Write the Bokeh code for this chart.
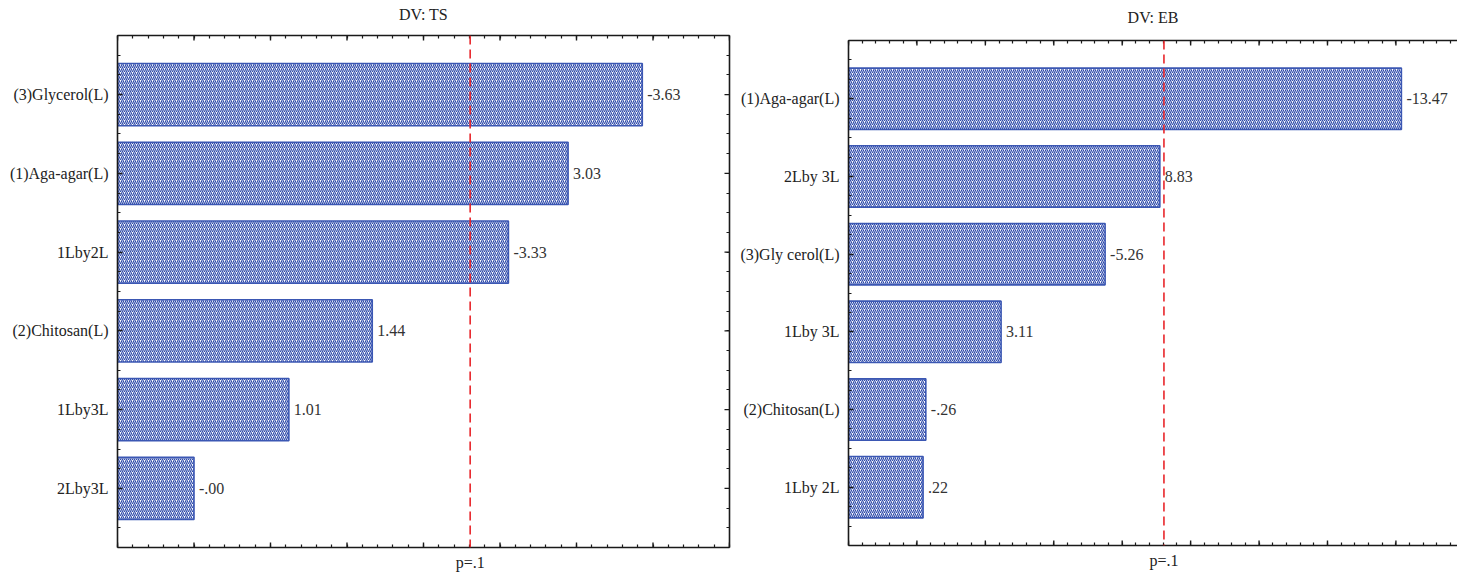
import math
from bokeh.plotting import figure
from bokeh.layouts import row, column
from bokeh.models import Range1d, FixedTicker, LinearAxis, Span, Spacer
from bokeh.core.properties import value
from bokeh.embed import file_html
from bokeh.resources import INLINE

# ---- data ----
ts_categories = ["(3)Glycerol(L)", "(1)Aga-agar(L)", "1Lby2L", "(2)Chitosan(L)", "1Lby3L", "2Lby3L"]
ts_effects = [6.86, 5.89, 5.11, 3.33, 2.24, 1.00]
ts_labels = ["-3.63", "3.03", "-3.33", "1.44", "1.01", "-.00"]

eb_categories = ["(1)Aga-agar(L)", "2Lby 3L", "(3)Gly cerol(L)", "1Lby 3L", "(2)Chitosan(L)", "1Lby 2L"]
eb_effects = [8.08, 4.55, 3.75, 2.23, 1.13, 1.09]
eb_labels = ["-13.47", "8.83", "-5.26", "3.11", "-.26", ".22"]

p_crit = 4.61
p_label = "p=.1"

FONT = "Liberation Serif"
FS = "16px"
AXIS_COLOR = "#1a1a1a"
BAR_LINE = "#3b57b3"
HATCH = "#2f4bab"


def make_panel(title, cats, effects, labels, width, height, xmax,
               b_left, b_right, b_top, b_bottom, title_standoff, right_axis=True):
    n = len(cats)
    ys = list(range(n))
    y_bottom, y_top = n - 0.25, -0.75
    p = figure(width=width, height=height, output_backend="svg", toolbar_location=None,
               x_range=Range1d(0, xmax), y_range=Range1d(y_bottom, y_top),
               x_axis_location=None, y_axis_location=None,
               min_border_left=b_left, min_border_right=b_right,
               min_border_top=b_top, min_border_bottom=b_bottom)
    p.grid.visible = False
    p.outline_line_color = None
    p.background_fill_color = "white"
    p.border_fill_color = "white"

    xmaj = list(range(0, int(math.floor(xmax)) + 1))
    xmin = [round(i * 0.2, 2) for i in range(0, int(xmax * 5) + 1)]
    ymin = [(-0.75 + 0.25 * k) for k in range(0, 4 * n + 2)]

    def style(ax):
        ax.axis_line_color = AXIS_COLOR
        ax.axis_line_width = 1.6
        ax.major_tick_line_color = AXIS_COLOR
        ax.minor_tick_line_color = AXIS_COLOR
        ax.major_tick_line_width = 1.4
        ax.minor_tick_line_width = 1.2
        ax.major_tick_in = 5
        ax.major_tick_out = 0
        ax.minor_tick_in = 3
        ax.minor_tick_out = 0
        ax.major_label_text_font = FONT
        ax.major_label_text_color = "#222222"
        ax.major_label_text_font_size = FS

    # bottom axis: minor ticks + "p=.1" label
    bottom = LinearAxis(ticker=FixedTicker(ticks=[p_crit], minor_ticks=xmin))
    bottom.major_label_overrides = {p_crit: p_label}
    style(bottom)
    bottom.major_tick_in = 0
    bottom.major_label_standoff = 6
    p.add_layout(bottom, "below")

    # top border with minor ticks; the panel title is its axis label
    top = LinearAxis(ticker=FixedTicker(ticks=[], minor_ticks=xmin))
    style(top)
    top.major_label_standoff = 0
    top.axis_label = title
    top.axis_label_text_font = FONT
    top.axis_label_text_font_size = FS
    top.axis_label_text_font_style = "normal"
    top.axis_label_text_color = "#222222"
    top.axis_label_standoff = title_standoff
    p.add_layout(top, "above")

    left = LinearAxis(ticker=FixedTicker(ticks=ys, minor_ticks=ymin))
    left.major_label_overrides = {i: c for i, c in enumerate(cats)}
    style(left)
    left.major_label_standoff = 9
    p.add_layout(left, "left")

    if right_axis:
        right = LinearAxis(ticker=FixedTicker(ticks=[], minor_ticks=ymin))
        style(right)
        right.major_label_standoff = 0
        p.add_layout(right, "right")
        p.scatter(x=[xmax] * n, y=ys, marker="dash", size=10, angle=0,
                  line_color=AXIS_COLOR, line_width=1.4)

    # longer major ticks at the whole units, top and bottom edges
    p.scatter(x=xmaj, y=[y_bottom] * len(xmaj), marker="dash", size=10, angle=math.pi / 2,
              line_color=AXIS_COLOR, line_width=1.4)
    p.scatter(x=xmaj, y=[y_top] * len(xmaj), marker="dash", size=10, angle=math.pi / 2,
              line_color=AXIS_COLOR, line_width=1.4)

    p.hbar(y=ys, left=0, right=effects, height=0.79,
           fill_color="white", line_color=BAR_LINE, line_width=1.6,
           hatch_pattern="/", hatch_color=HATCH, hatch_scale=4.0, hatch_weight=1.2)

    p.text(x=effects, y=ys, text=labels, x_offset=5, text_baseline="middle",
           text_align="left", text_font=value(FONT), text_font_size=FS,
           text_color="#333333")

    p.add_layout(Span(location=p_crit, dimension="height", line_color="#e8262b",
                      line_width=1.6, line_dash="9 5"))
    return p


p1 = make_panel("DV: TS", ts_categories, ts_effects, ts_labels,
                width=736, height=576, xmax=8.0,
                b_left=117, b_right=7, b_top=35, b_bottom=29, title_standoff=13,
                right_axis=True)
p2 = make_panel("DV: EB", eb_categories, eb_effects, eb_labels,
                width=721, height=569, xmax=8.9,
                b_left=112, b_right=0, b_top=35, b_bottom=29, title_standoff=15,
                right_axis=False)

layout = row(p1, column(Spacer(width=721, height=5), p2, spacing=0), spacing=0)
open("out.html", "w").write(file_html(layout, INLINE))
